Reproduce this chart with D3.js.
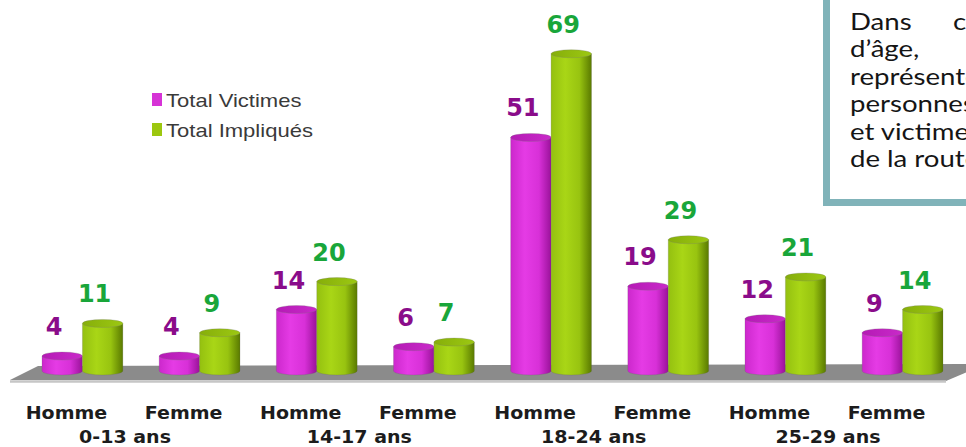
<!DOCTYPE html>
<html>
<head>
<meta charset="utf-8">
<script src="https://cdn.jsdelivr.net/npm/d3@7"></script>
<style>
  body { margin: 0; background: #fff; }
  svg { display: block; }
</style>
</head>
<body>
<script>
var width = 966;
var height = 447;

// data
var sexes = ["Homme", "Femme", "Homme", "Femme", "Homme", "Femme", "Homme", "Femme"];
var ageGroups = ["0-13 ans", "14-17 ans", "18-24 ans", "25-29 ans"];
var victimes = [4, 4, 14, 6, 51, 19, 12, 9];
var impliques = [11, 9, 20, 7, 69, 29, 21, 14];
var seriesNames = ["Total Victimes", "Total Impliqués"];
var noteLines = [
  ["Dans", "cette", "tranche"],
  ["d’âge,", "les", "hommes"],
  ["représentent", "la", "majorité"],
  ["personnes", "impliquées"],
  ["et", "victimes", "d’accidents"],
  ["de", "la", "route."]
];

var keys = sexes.map((s, i) => i);

var svg = d3.select("body").append("svg")
  .attr("width", width)
  .attr("height", height);

var defs = svg.append("defs");

function cylGradient(id, stops) {
  var g = defs.append("linearGradient").attr("id", id)
    .attr("x1", "0%").attr("x2", "100%").attr("y1", "0%").attr("y2", "0%");
  stops.forEach(s => g.append("stop").attr("offset", s[0]).attr("stop-color", s[1]));
}
cylGradient("pinkBody", [["0%", "#cc28cc"], ["35%", "#e53be5"], ["70%", "#d830d8"], ["100%", "#9a129a"]]);
cylGradient("greenBody", [["0%", "#94c010"], ["35%", "#a9d616"], ["70%", "#98c410"], ["100%", "#5a7a00"]]);
cylGradient("pinkTop", [["0%", "#b51ab5"], ["100%", "#c92ac9"]]);
cylGradient("greenTop", [["0%", "#86ae0a"], ["100%", "#9cc812"]]);

var x = d3.scaleBand()
  .domain(keys)
  .range([42, 943])
  .paddingInner(0.31)
  .paddingOuter(0);

var xs = d3.scaleBand()
  .domain([0, 1])
  .range([0, x.bandwidth()]);

var y = d3.scaleLinear()
  .domain([0, 70])
  .range([374.6, 49.1]);

var baseY = 371; // centre of the bottom ellipses, sits on the floor
var ry = 4;

// floor
var x0 = x.range()[0], x1 = x.range()[1];
svg.append("polygon")
  .attr("points", [[x0 - 32, 380], [x0 - 4, 366], [width + 20, 364], [x1 + 3, 381]].join(" "))
  .style("fill", "#8b8b8b");
svg.append("line")
  .attr("x1", x0 - 32).attr("x2", x1 + 3)
  .attr("y1", 381.5).attr("y2", 381.5)
  .style("stroke", "#c6c6c6").style("stroke-width", 2.5);

// cylinders
var series = [
  { name: seriesNames[0], values: victimes, body: "url(#pinkBody)", top: "url(#pinkTop)", label: "#8a0c8a" },
  { name: seriesNames[1], values: impliques, body: "url(#greenBody)", top: "url(#greenTop)", label: "#19a63a" }
];

var bars = svg.append("g").attr("class", "bars");

keys.forEach(function(k) {
  series.forEach(function(s, si) {
    var v = s.values[k];
    var left = x(k) + xs(si);
    var w = xs.bandwidth();
    var rx = w / 2;
    var cx = left + rx;
    var top = y(v);
    var g = bars.append("g");
    g.append("path")
      .attr("d", "M" + left + "," + top +
        " L" + left + "," + baseY +
        " A" + rx + "," + ry + " 0 0 0 " + (left + w) + "," + baseY +
        " L" + (left + w) + "," + top + " Z")
      .style("fill", s.body)
      .style("stroke", "rgba(90,90,90,0.25)")
      .style("stroke-width", 0.8);
    g.append("ellipse")
      .attr("cx", cx).attr("cy", top)
      .attr("rx", rx).attr("ry", ry)
      .style("fill", s.top)
      .style("stroke", "rgba(120,120,120,0.35)")
      .style("stroke-width", 0.8);
  });
});

// value labels
keys.forEach(function(k) {
  series.forEach(function(s, si) {
    var v = s.values[k];
    svg.append("text")
      .attr("x", x(k) + xs(si) + xs.bandwidth() / 2 - 8)
      .attr("y", y(v) - 21)
      .attr("text-anchor", "middle")
      .style("font-family", "'DejaVu Sans', Verdana, sans-serif")
      .style("font-weight", "bold")
      .style("font-size", "24px")
      .style("fill", s.label)
      .text(v);
  });
});

// x axis: sex labels
var axis = d3.axisBottom(x)
  .tickSize(0)
  .tickFormat(i => sexes[i]);

var axisG = svg.append("g")
  .attr("transform", "translate(-16,419)")
  .call(axis);
axisG.select(".domain").remove();
axisG.selectAll("text")
  .attr("y", 0).attr("dy", 0)
  .attr("transform", "scale(1.12,1)")
  .style("font-family", "'DejaVu Sans', Verdana, sans-serif")
  .style("font-weight", "bold")
  .style("font-size", "17px")
  .style("fill", "#1c1c1c");

// age group labels
ageGroups.forEach(function(a, gi) {
  var cx = (x(gi * 2) + x(gi * 2 + 1)) / 2 + x.bandwidth() / 2 - 16;
  svg.append("text")
    .attr("transform", "translate(" + cx + ",443) scale(1.12,1)")
    .attr("text-anchor", "middle")
    .style("font-family", "'DejaVu Sans', Verdana, sans-serif")
    .style("font-weight", "bold")
    .style("font-size", "17px")
    .style("fill", "#1c1c1c")
    .text(a);
});

// legend
var legendColors = ["#d633d6", "#9cc70f"];
var legend = svg.append("g").attr("transform", "translate(152,93)");
seriesNames.forEach(function(n, i) {
  legend.append("rect")
    .attr("x", 0).attr("y", i * 30)
    .attr("width", 10).attr("height", 13)
    .style("fill", legendColors[i]);
  legend.append("text")
    .attr("transform", "translate(14," + (i * 30 + 14) + ") scale(1.16,1)")
    .style("font-family", "'Liberation Sans', Arial, sans-serif")
    .style("font-size", "19px")
    .style("fill", "#3a3a3a")
    .text(n);
});

// note box (cut by the right edge)
svg.append("rect")
  .attr("x", 826.5).attr("y", -20)
  .attr("width", 200).attr("height", 222.5)
  .style("fill", "#fff")
  .style("stroke", "#80b3b9")
  .style("stroke-width", 7);

var note = svg.append("g").attr("transform", "translate(850,0) scale(1.2,1)");
var spacing = [28.5, 45, 6, 6, 0, 0];
noteLines.forEach(function(words, i) {
  note.append("text")
    .attr("x", 0)
    .attr("y", 30 + i * 27.4)
    .style("font-family", "Lato, 'Open Sans', sans-serif")
    .style("font-size", "23px")
    .style("word-spacing", spacing[i] + "px")
    .style("fill", "#151515")
    .text(words.join(" "));
});
</script>
</body>
</html>
